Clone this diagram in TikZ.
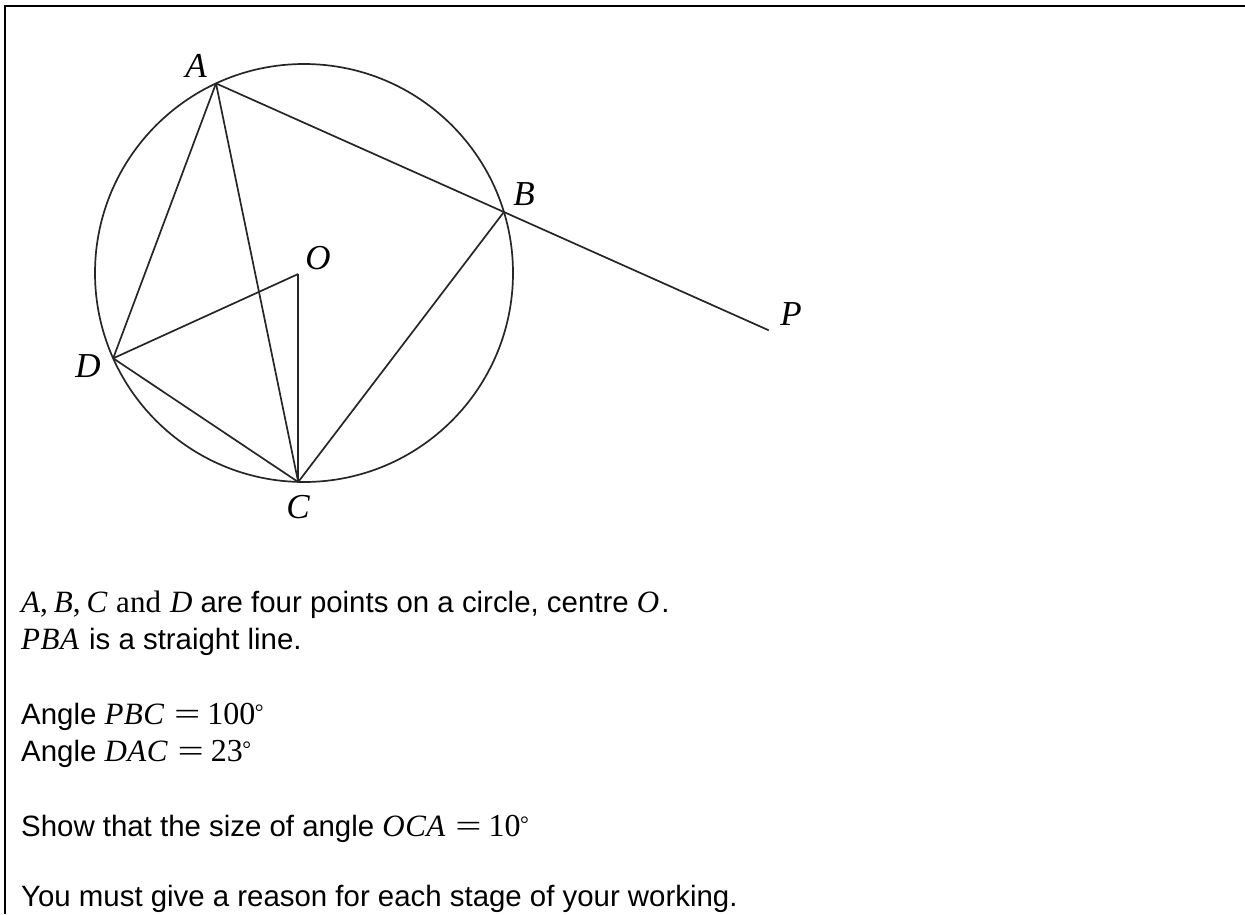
\documentclass[tikz,border=0pt]{standalone}
\usepackage{graphicx}
\usepackage{fontspec}
\setmainfont{Liberation Sans}
\newfontfamily\lblfont{Liberation Serif}
\newcommand\mtx[1]{{\lblfont\fontsize{31}{35}\selectfont\itshape #1}}
\newcommand\mup[1]{{\lblfont\fontsize{31}{35}\selectfont #1}}
\newcommand\eqdeg[1]{\hspace{10pt}\scalebox{1.5}[1]{\mup{=}}\hspace{7pt}{\lblfont\fontsize{32}{35}\selectfont #1}\kern-0.5pt\raisebox{5pt}{\lblfont\fontsize{22}{24}\selectfont °}}
\usetikzlibrary{calc}
\begin{document}
\begin{tikzpicture}[x=1pt,y=-1pt,
  geo/.style={line width=1.7pt, black!85},
  lbl/.style={font=\lblfont\itshape\fontsize{35}{40}\selectfont, inner sep=0pt},
  txt/.style={anchor=base west, inner sep=0pt, font=\fontsize{29.4}{35}\selectfont}]
\useasboundingbox (0,0) rectangle (1245,914);
% frame
\draw[line width=2.5pt] (5,914) -- (5,6) -- (1245,6);
% points
\coordinate (Oc) at (304,273);
\coordinate (A) at (216,83.4);
\coordinate (B) at (503.9,212);
\coordinate (D) at (113.2,358.3);
\coordinate (C) at (298.2,482);
\coordinate (O) at (298.2,274);
\coordinate (P) at ($(A)!1.92!(B)$);
% circle and chords
\draw[geo] (Oc) circle[radius=209];
\draw[geo] (A) -- (P);
\draw[geo] (A) -- (D);
\draw[geo] (A) -- (C);
\draw[geo] (D) -- (O);
\draw[geo] (O) -- (C);
\draw[geo] (D) -- (C);
\draw[geo] (B) -- (C);
% labels
\node[lbl] (lA) at (196,66) {A};
\node[lbl] (lB) at (524,194) {B};
\node[lbl] (lO) at (318,258) {O};
\node[lbl] (lD) at (88,366) {D};
\node[lbl] (lC) at (298,507) {C};
\node[lbl] (lP) at (791,314) {P};
% text
\node[txt] (t1) at (21,612) {\mtx{A}\mup{,}\hspace{6pt}\mtx{B}\mup{,}\hspace{6pt}\mtx{C}\hspace{9pt}\mup{and}\hspace{9pt}\mtx{D} are four points on a circle, centre \mtx{O}\kern2pt.};
\node[txt] (t2) at (21,649) {\mtx{P\kern0.5pt B\kern0.5pt A}\hspace{2pt} is a straight line.};
\node[txt] (t3) at (21,724) {Angle \mtx{P\kern0.5pt B\kern0.5pt C}\eqdeg{100}};
\node[txt] (t4) at (21,761) {Angle \mtx{D\kern0.5pt A\kern0.5pt C}\eqdeg{23}};
\node[txt] (t5) at (21,836) {Show that the size of angle \mtx{O\kern0.5pt C\kern0.5pt A}\eqdeg{10}};
\node[txt] (t6) at (21,906) {You must give a reason for each stage of your working.};
\end{tikzpicture}
\end{document}
